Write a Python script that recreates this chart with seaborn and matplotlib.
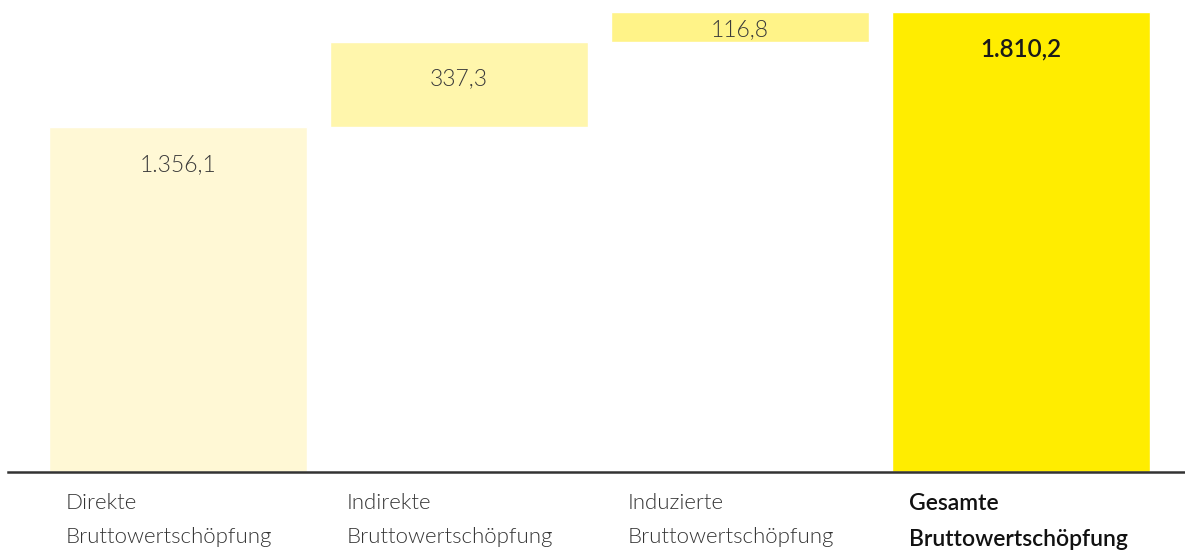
import numpy as np
import pandas as pd
import matplotlib
matplotlib.use("Agg")
import matplotlib.pyplot as plt
import matplotlib.transforms as mtransforms
import seaborn as sns

# Data
categories = ["Direkte\nBruttowertschöpfung", "Indirekte\nBruttowertschöpfung",
              "Induzierte\nBruttowertschöpfung", "Gesamte\nBruttowertschöpfung"]
values = [1356.1, 337.3, 116.8, 1810.2]
bar_colors = ["#FFF8D5", "#FFF6AC", "#FFF388", "#FFED00"]

# waterfall: the first three stack, the last is the total
bottoms = [0, values[0], values[0] + values[1], 0]
tops = [b + v for b, v in zip(bottoms, values)]

df = pd.DataFrame({"cat": categories, "top": tops, "bottom": bottoms, "value": values})


def de_fmt(v):
    return f"{v:,.1f}".replace(",", "X").replace(".", ",").replace("X", ".")


sns.set_style("white")
plt.rcParams["font.family"] = ["Lato", "DejaVu Sans"]

fig = plt.figure(figsize=(11.85, 5.51), dpi=100)
ax = fig.add_axes([8 / 1185, 79 / 551, 1 - 8 / 1185, 472 / 551])

bw = 0.918
sns.barplot(data=df, x="cat", y="top", hue="cat", palette=bar_colors,
            width=bw, saturation=1, legend=False, ax=ax)
# hide the lower part of the floating bars
sns.barplot(data=df, x="cat", y="bottom", color="white",
            width=bw + 0.01, saturation=1, ax=ax)

ax.set_xlim(-0.605, 3.584)
ax.set_ylim(0, 1857.4)
for s in ["top", "right", "left"]:
    ax.spines[s].set_visible(False)
ax.spines["bottom"].set_color("#333333")
ax.spines["bottom"].set_linewidth(1.8)
ax.spines["bottom"].set_zorder(5)
ax.set_xticks([])
ax.set_yticks([])
ax.set_xlabel("")
ax.set_ylabel("")

# value labels inside the bars
px_per_unit = 460 / 1810.2
for i, (b, t, v) in enumerate(zip(bottoms, tops, values)):
    seg_px = (t - b) * px_per_unit
    off = min(37, seg_px / 2 + 3)
    bold = i == len(values) - 1
    ax.annotate(de_fmt(v), xy=(i, t), xytext=(0, -off * 0.72), textcoords="offset points",
                ha="center", va="center",
                fontsize=17.5 if bold else 16.5,
                fontweight=600 if bold else 300,
                color="#1a1a1a" if bold else "#3a3a3a", zorder=6)

# category labels under the axis, left aligned with a small indent
trans = mtransforms.blended_transform_factory(ax.transData, ax.transAxes)
for i, c in enumerate(categories):
    bold = i == len(categories) - 1
    ax.text(i - bw / 2 + 0.06, -0.045, c, transform=trans, ha="left", va="top",
            fontsize=16.5 if bold else 16, linespacing=1.85,
            fontweight=600 if bold else 300,
            color="#111111" if bold else "#333333")

fig.savefig("out.png", dpi=100, facecolor="white")
